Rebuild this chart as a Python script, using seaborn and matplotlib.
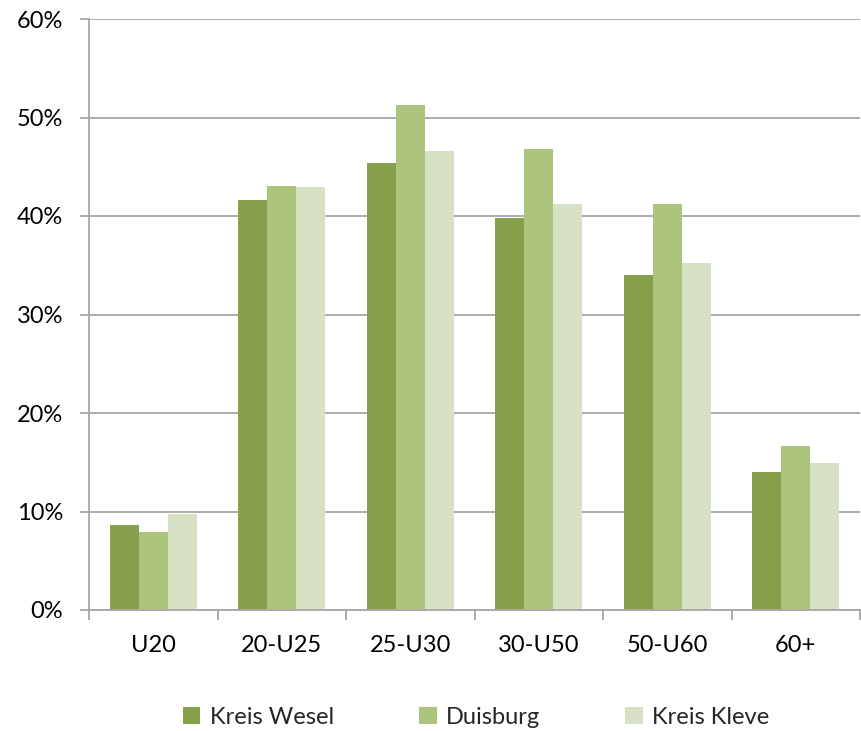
import pandas as pd
import seaborn as sns
import matplotlib.pyplot as plt
from matplotlib.ticker import PercentFormatter

# Data (percent)
categories = ['U20', '20-U25', '25-U30', '30-U50', '50-U60', '60+']
series_names = ['Kreis Wesel', 'Duisburg', 'Kreis Kleve']
kreis_wesel = [8.6, 41.6, 45.4, 39.8, 34.0, 14.0]
duisburg = [7.9, 43.0, 51.3, 46.8, 41.2, 16.6]
kreis_kleve = [9.7, 42.9, 46.6, 41.2, 35.2, 14.9]
colors = ['#86A04C', '#ACC47B', '#D7E1C5']

df = pd.DataFrame({
    'Alter': categories * 3,
    'Region': [s for s in series_names for _ in categories],
    'Anteil': kreis_wesel + duisburg + kreis_kleve,
})

sns.set_theme(style='white')
plt.rcParams['font.family'] = ['Lato', 'DejaVu Sans']
FS = 17

fig = plt.figure(figsize=(8.61, 7.31), dpi=100)
ax = fig.add_axes([89 / 861, 1 - 610 / 731, 771 / 861, 591 / 731])

sns.barplot(data=df, x='Alter', y='Anteil', hue='Region', order=categories,
            hue_order=series_names, palette=colors, width=0.68, gap=0,
            saturation=1, linewidth=0, ax=ax, legend=True)

ax.set_ylim(0, 60)
ax.set_xlim(-0.5, 5.5)
ax.set_yticks(range(0, 61, 10))
ax.yaxis.set_major_formatter(PercentFormatter(decimals=0))
ax.yaxis.grid(True, color='#A6A6A6', linewidth=1.3)
ax.set_axisbelow(True)
ax.set_xlabel('')
ax.set_ylabel('')

for side in ['top', 'right']:
    ax.spines[side].set_visible(False)
for side in ['left', 'bottom']:
    ax.spines[side].set_color('#A6A6A6')
    ax.spines[side].set_linewidth(1.3)

ax.tick_params(axis='y', which='major', left=True, length=6.5, width=1.3,
               color='#A6A6A6', pad=12, labelsize=FS, labelcolor='black')
ax.set_xticks([i - 0.5 for i in range(7)], minor=True)
ax.tick_params(axis='x', which='minor', bottom=True, length=7, width=1.3,
               color='#A6A6A6')
ax.tick_params(axis='x', which='major', bottom=False, length=0, pad=18,
               labelsize=FS, labelcolor='black')

handles, labels = ax.get_legend_handles_labels()
ax.get_legend().remove()
fig.legend(handles, labels, loc='center', bbox_to_anchor=(0.553, 1 - 717 / 731),
           ncol=3, frameon=False, fontsize=FS, handlelength=0.75,
           handleheight=0.75, handletextpad=0.4, columnspacing=3.6)

plt.savefig('out.png', dpi=100)
plt.close()
